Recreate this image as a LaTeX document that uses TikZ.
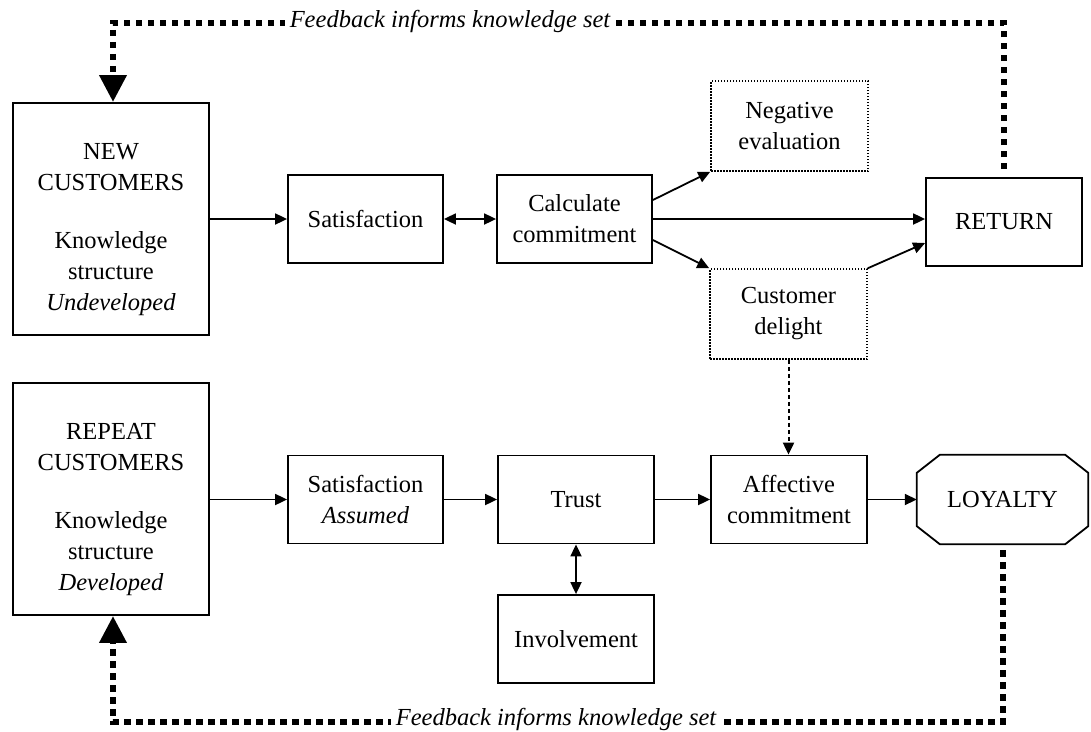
\documentclass[tikz,border=0pt]{standalone}
\usepackage{fontspec}
\setmainfont{Liberation Serif}
\usetikzlibrary{arrows.meta,calc}

\begin{document}
\begin{tikzpicture}[x=1pt,y=-1pt,
  txt/.style={font=\fontsize{24.5}{31}\selectfont, align=center},
  flowbox/.style={txt, draw, line width=1.8pt, minimum width=155pt, minimum height=88pt, inner sep=0pt},
  dotbox/.style={flowbox, line width=1.5pt, dash pattern=on 1.5pt off 1.5pt},
  bigbox/.style={draw, line width=1.8pt, minimum width=196pt, minimum height=232pt, inner sep=0pt},
  arr/.style={line width=1.8pt, -{Triangle[length=12pt,width=11pt]}},
  darr/.style={line width=1.8pt, {Triangle[length=12pt,width=11pt]}-{Triangle[length=12pt,width=11pt]}},
  dasharr/.style={line width=2pt, dash pattern=on 4pt off 3pt, -{Triangle[length=12pt,width=11pt]}},
  fb/.style={line width=6.5pt, dash pattern=on 6.5pt off 5.5pt, -{Triangle[length=27pt,width=26pt]}},
  fbtext/.style={font=\itshape\fontsize{24.5}{31}\selectfont, fill=white, inner xsep=5pt, inner ysep=2pt}
]
\useasboundingbox (0,0) rectangle (1091,731);
\fill[white] (0,0) rectangle (1091,731);

% customer groups
\node[bigbox] (nc) at (111,219) {};
\node[txt] (nctext) at ([yshift=-11pt]nc.center) {NEW\\CUSTOMERS\\[27pt]Knowledge\\structure\\\textit{Undeveloped}};
\node[bigbox] (rc) at (111,499) {};
\node[txt] (rctext) at ([yshift=-11pt]rc.center) {REPEAT\\CUSTOMERS\\[27pt]Knowledge\\structure\\\textit{Developed}};

% upper row
\node[flowbox] (sat) at (365.5,219) {Satisfaction};
\node[flowbox] (calc) at (574.5,219) {Calculate\\commitment};
\node[dotbox, minimum width=157pt, minimum height=90pt] (neg) at (789.5,126) {Negative\\evaluation};
\node[dotbox, minimum width=157pt, minimum height=90pt] (del) at (788.5,314) {Customer\\delight};
\node[flowbox, minimum width=156pt] (ret) at (1004,222) {RETURN};

% lower row
\node[flowbox] (satA) at (365.5,499.5) {Satisfaction\\\textit{Assumed}};
\node[flowbox, minimum width=156pt] (trust) at (576,499.5) {Trust};
\node[flowbox, minimum width=156pt] (aff) at (789,499.5) {Affective\\commitment};
\node[flowbox, minimum width=156pt] (inv) at (576,639) {Involvement};
\node[txt, minimum width=171pt, minimum height=89pt, inner sep=0pt] (loy) at (1002.5,499.5) {LOYALTY};
\draw[line width=1.8pt]
  ([xshift=23pt]loy.north west) -- ([xshift=-23pt]loy.north east)
  -- ([yshift=-18pt]loy.north east) -- ([yshift=18pt]loy.south east)
  -- ([xshift=-23pt]loy.south east) -- ([xshift=23pt]loy.south west)
  -- ([yshift=18pt]loy.south west) -- ([yshift=-18pt]loy.north west) -- cycle;

% upper connectors
\draw[arr] (nc.east |- sat.west) -- (sat.west);
\draw[darr] (sat.east) -- (calc.west);
\draw[arr] ([yshift=19pt]calc.east) -- (neg.south west);
\draw[arr] (calc.east) -- (calc.east -| ret.west);
\draw[arr] ([yshift=-21pt]calc.east) -- (del.north west);
\draw[arr] (del.north east) -- ([yshift=-21pt]ret.west);
\draw[dasharr] (del.south) -- (del.south |- aff.north);

% lower connectors
\draw[arr] (rc.east |- satA.west) -- (satA.west);
\draw[arr] (satA.east) -- (trust.west);
\draw[arr] (trust.east) -- (aff.west);
\draw[arr] (aff.east) -- (loy.west);
\draw[darr] (trust.south) -- (inv.north);

% feedback loops
\coordinate (tr) at (1004,23);
\coordinate (tl) at (113,23);
\draw[fb] ([yshift=8pt]ret.north) -- (tr) -- (tl) -- (tl |- nc.north);
\node[fbtext] (fbtop) at (450,21) {Feedback informs knowledge set};

\coordinate (br) at (1003,722);
\coordinate (bl) at (113,722);
\draw[fb] ([yshift=-6pt]loy.south -| br) -- (br) -- (bl) -- (bl |- rc.south);
\node[fbtext] (fbbot) at (556,719) {Feedback informs knowledge set};
\end{tikzpicture}
\end{document}
